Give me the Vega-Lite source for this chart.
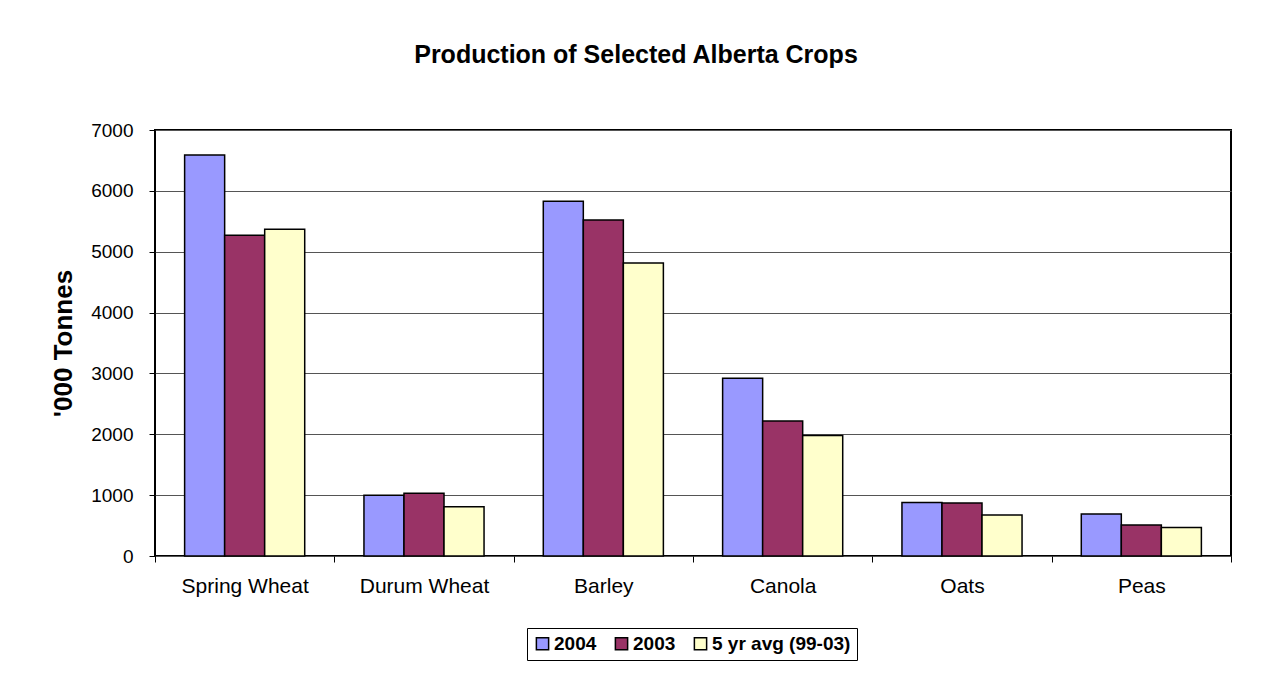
{
  "$schema": "https://vega.github.io/schema/vega-lite/v6.json",
  "width": 1076,
  "height": 426,
  "autosize": {"type": "none"},
  "padding": {"left": 155, "top": 130, "right": 30, "bottom": 121},
  "background": "white",
  "config": {
    "font": "Liberation Sans",
    "view": {"stroke": "black", "strokeWidth": 2}
  },
  "title": {
    "text": "Production of Selected Alberta Crops",
    "fontSize": 25,
    "fontWeight": "bold",
    "font": "Liberation Sans",
    "color": "black",
    "anchor": "middle",
    "dx": -57,
    "offset": 53
  },
  "data": {
    "values": [
      {"crop": "Spring Wheat", "series": "2004", "value": 6590},
      {"crop": "Spring Wheat", "series": "2003", "value": 5270},
      {"crop": "Spring Wheat", "series": "5 yr avg (99-03)", "value": 5370},
      {"crop": "Durum Wheat", "series": "2004", "value": 1000},
      {"crop": "Durum Wheat", "series": "2003", "value": 1030},
      {"crop": "Durum Wheat", "series": "5 yr avg (99-03)", "value": 810},
      {"crop": "Barley", "series": "2004", "value": 5830},
      {"crop": "Barley", "series": "2003", "value": 5520},
      {"crop": "Barley", "series": "5 yr avg (99-03)", "value": 4815},
      {"crop": "Canola", "series": "2004", "value": 2920},
      {"crop": "Canola", "series": "2003", "value": 2220},
      {"crop": "Canola", "series": "5 yr avg (99-03)", "value": 1980},
      {"crop": "Oats", "series": "2004", "value": 880},
      {"crop": "Oats", "series": "2003", "value": 870},
      {"crop": "Oats", "series": "5 yr avg (99-03)", "value": 675},
      {"crop": "Peas", "series": "2004", "value": 690},
      {"crop": "Peas", "series": "2003", "value": 510},
      {"crop": "Peas", "series": "5 yr avg (99-03)", "value": 470}
    ]
  },
  "mark": {"type": "bar", "stroke": "black", "strokeWidth": 1.5},
  "encoding": {
    "x": {
      "field": "crop",
      "type": "nominal",
      "sort": ["Spring Wheat", "Durum Wheat", "Barley", "Canola", "Oats", "Peas"],
      "scale": {"paddingInner": 0, "paddingOuter": 0},
      "axis": {
        "title": null,
        "labelAngle": 0,
        "labelFontSize": 21,
        "labelColor": "black",
        "labelPadding": 13,
        "tickBand": "extent",
        "tickColor": "black",
        "tickSize": 6,
        "tickWidth": 1,
        "domain": false,
        "grid": false
      }
    },
    "xOffset": {
      "field": "series",
      "type": "nominal",
      "sort": ["2004", "2003", "5 yr avg (99-03)"],
      "scale": {"paddingInner": 0, "paddingOuter": 0.74}
    },
    "y": {
      "field": "value",
      "type": "quantitative",
      "scale": {"domain": [0, 7000], "nice": false},
      "axis": {
        "values": [0, 1000, 2000, 3000, 4000, 5000, 6000, 7000],
        "format": "d",
        "title": "'000 Tonnes",
        "titleFontSize": 26,
        "titleFontWeight": "bold",
        "titleColor": "black",
        "titleAngle": -90,
        "titleX": -92,
        "titleY": 213,
        "titleAlign": "center",
        "titleBaseline": "middle",
        "labelFontSize": 19,
        "labelColor": "black",
        "labelPadding": 16,
        "tickColor": "black",
        "tickSize": 6,
        "domain": false,
        "grid": true,
        "gridColor": "#555555",
        "gridWidth": 1
      }
    },
    "color": {
      "field": "series",
      "type": "nominal",
      "sort": ["2004", "2003", "5 yr avg (99-03)"],
      "scale": {
        "domain": ["2004", "2003", "5 yr avg (99-03)"],
        "range": ["#9999FF", "#993366", "#FFFFCC"]
      },
      "legend": {
        "title": null,
        "orient": "none",
        "direction": "horizontal",
        "legendX": 372,
        "legendY": 498,
        "symbolType": "square",
        "symbolSize": 150,
        "symbolStrokeColor": "black",
        "symbolStrokeWidth": 1.5,
        "symbolOpacity": 1,
        "labelFontSize": 19,
        "labelFontWeight": "bold",
        "labelColor": "black",
        "labelOffset": 2,
        "columnPadding": 15,
        "padding": 6,
        "strokeColor": "black",
        "fillColor": "white"
      }
    }
  }
}
